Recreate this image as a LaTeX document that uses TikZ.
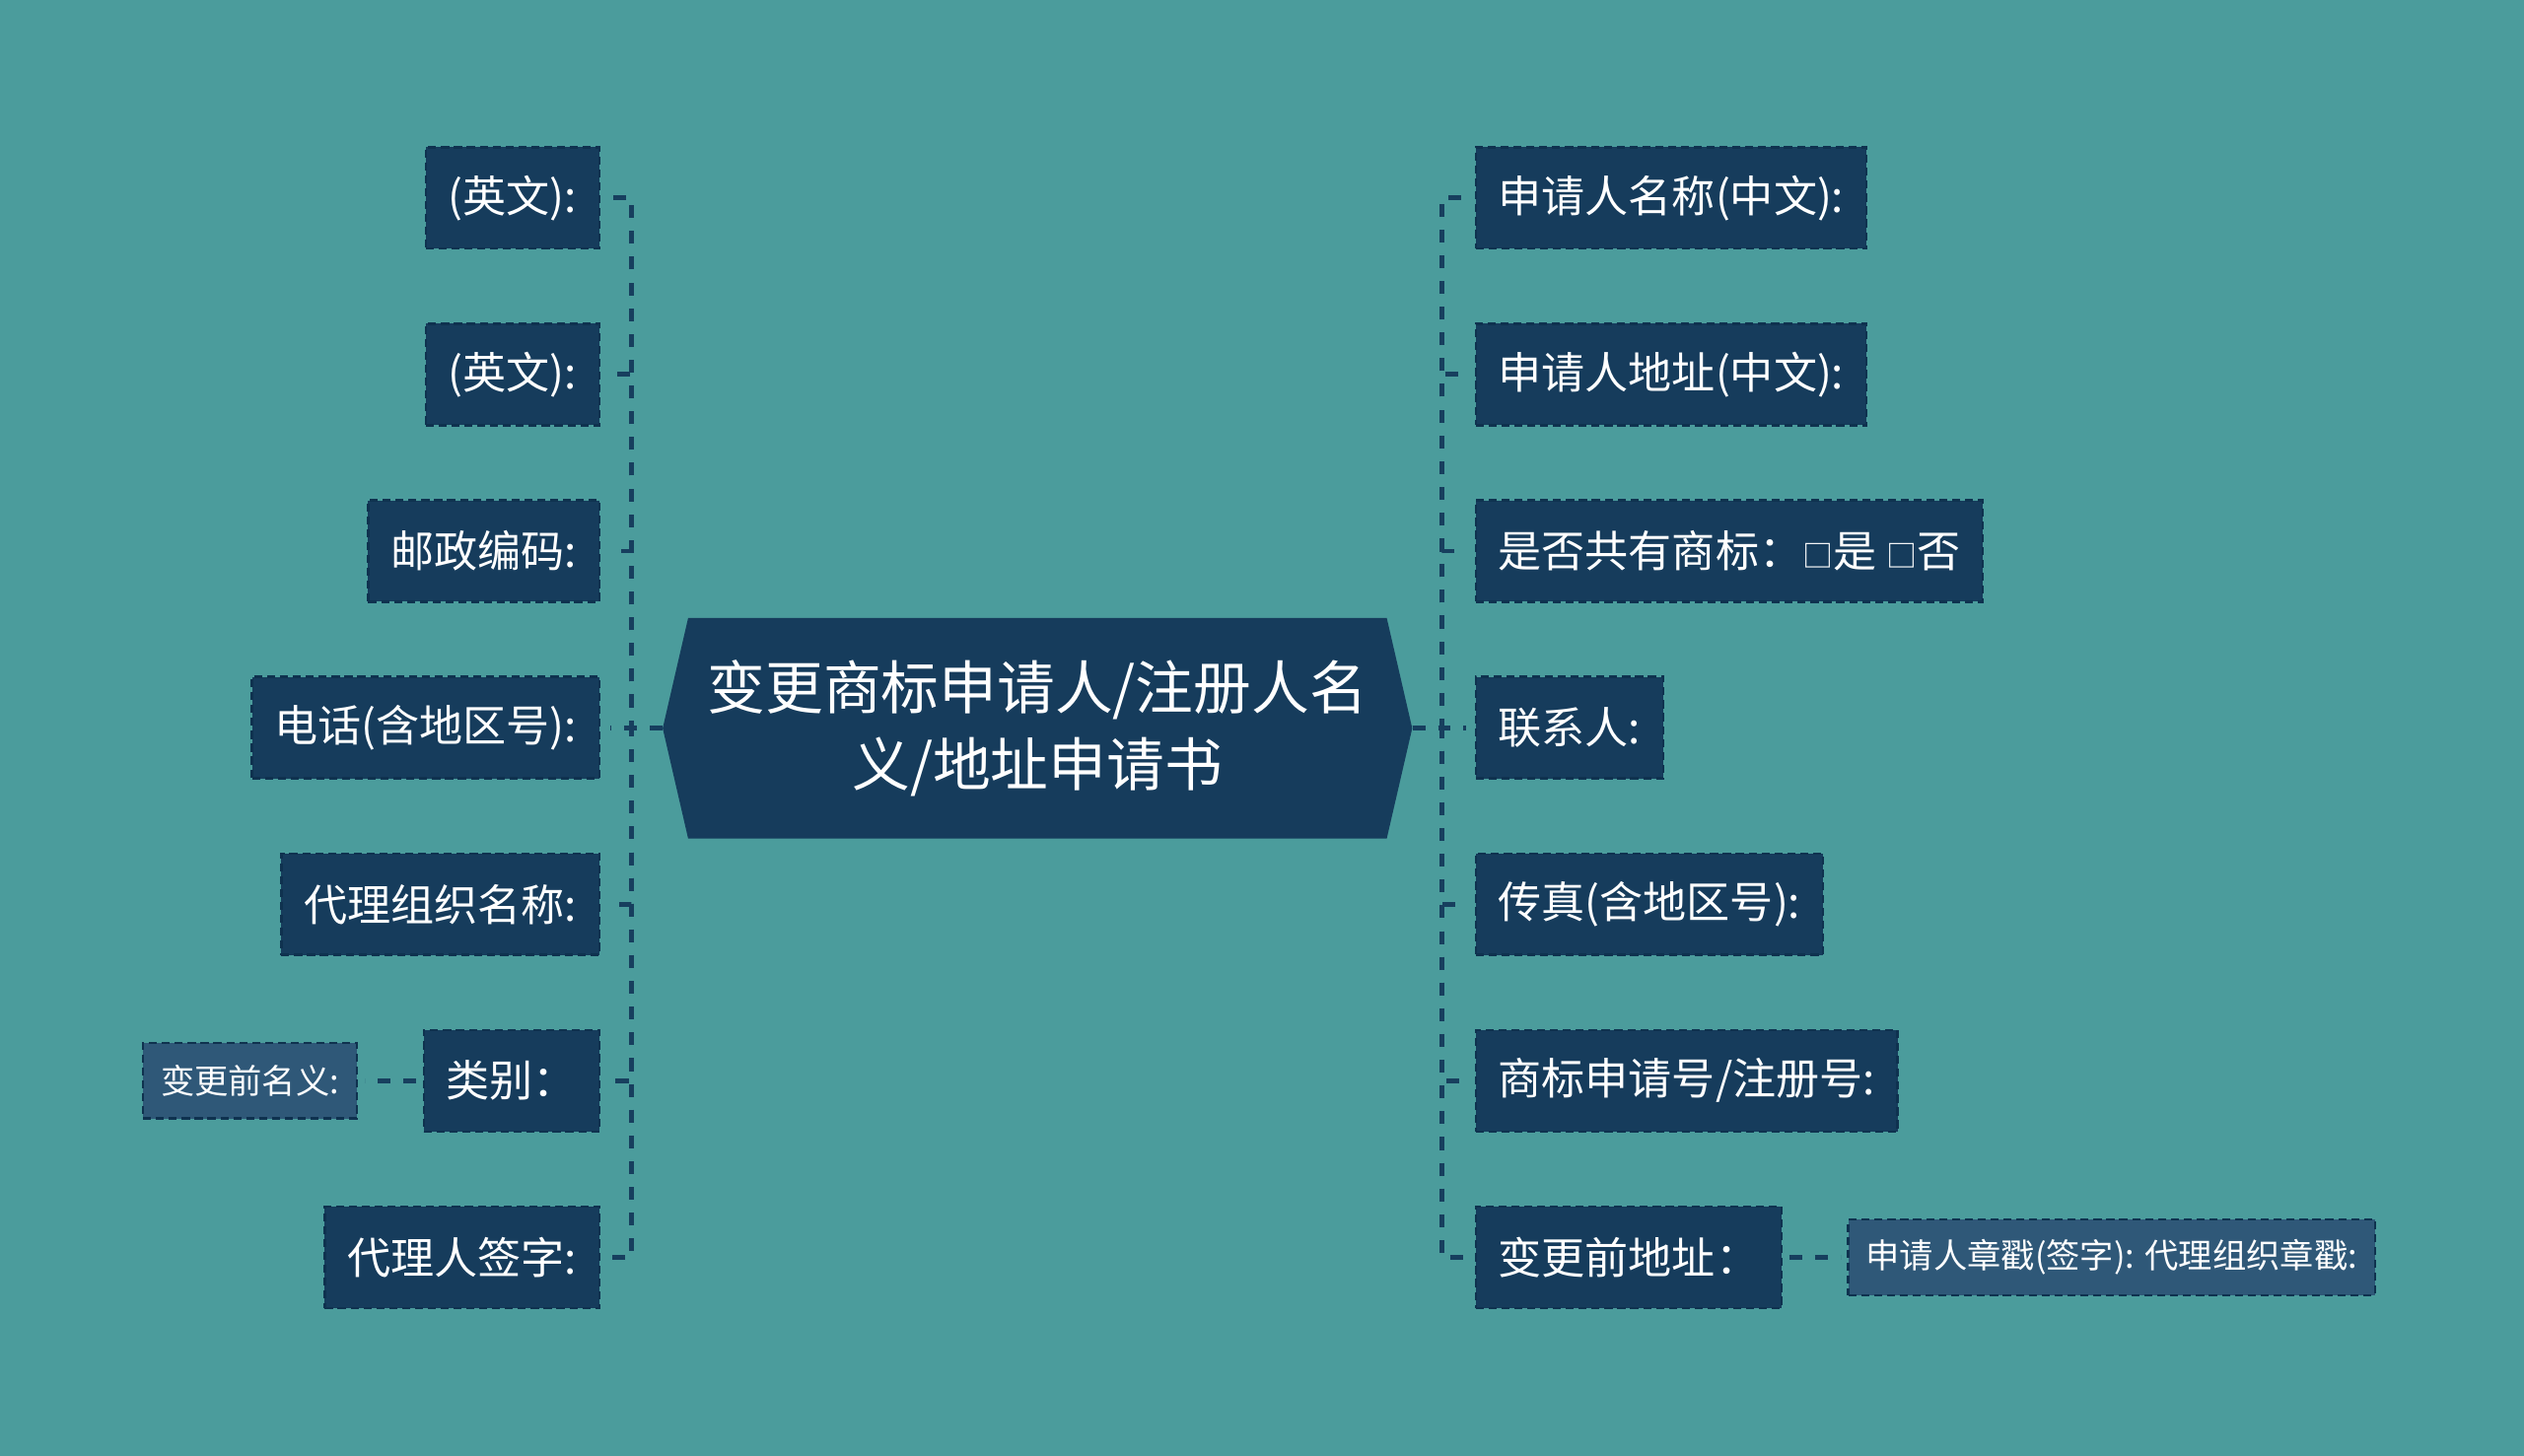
\documentclass[tikz,border=0pt]{standalone}
\usepackage{fontspec}
\setmainfont{Noto Sans CJK SC}
\usepackage{tikz}
\usetikzlibrary{positioning, shapes.symbols}

\definecolor{bgteal}{HTML}{4B9C9C}
\definecolor{boxnavy}{HTML}{163C5C}
\definecolor{subnavy}{HTML}{2F5878}
\definecolor{edgenavy}{HTML}{0F324F}
\definecolor{linenavy}{HTML}{173F5E}
\newcommand{\tickbox}{{\fontsize{19}{20}\selectfont □}}

\begin{document}
\begin{tikzpicture}[x=1pt, y=-1pt, node distance=45.2pt and 40pt,
  leaf node/.style={rectangle, fill=boxnavy, draw=edgenavy, line width=1.5pt,
    dash pattern=on 5pt off 3pt, text=white, font=\fontsize{27}{30}\selectfont,
    minimum height=63pt, inner ysep=0pt, inner xsep=14pt},
  sub node/.style={leaf node, fill=subnavy, font=\fontsize{21}{24}\selectfont,
    minimum height=47pt, inner xsep=11pt},
  root node/.style={signal, signal to=west and east, signal pointer angle=154,
    fill=boxnavy, text=white, font=\fontsize{36}{48}\selectfont, align=center,
    minimum height=137pt, inner xsep=0pt},
  link/.style={draw=linenavy, line width=3pt, dash pattern=on 8pt off 8pt}]

  \fill[bgteal] (0,0) rectangle (1568,904.6);

  \node[root node, text width=434pt] (root) at (644.5,452.5) {变更商标申请人/注册人名\\义/地址申请书};

  % left side
  \node[leaf node, anchor=east] (en1) at (373,123) {(英文):};
  \node[leaf node, below=of en1.south east, anchor=north east] (en2) {(英文):};
  \node[leaf node, below=of en2.south east, anchor=north east] (post) {邮政编码:};
  \node[leaf node, below=of post.south east, anchor=north east] (phone) {电话(含地区号):};
  \node[leaf node, below=of phone.south east, anchor=north east] (agency) {代理组织名称:};
  \node[leaf node, below=of agency.south east, anchor=north east] (cls) {类别：};
  \node[leaf node, below=of cls.south east, anchor=north east] (sign) {代理人签字:};
  \node[sub node, left=of cls] (oldname) {变更前名义:};

  % right side
  \node[leaf node, anchor=west] (name) at (916,123) {申请人名称(中文):};
  \node[leaf node, below=of name.south west, anchor=north west] (addr) {申请人地址(中文):};
  \node[leaf node, below=of addr.south west, anchor=north west] (share) {是否共有商标：\tickbox 是 \tickbox 否};
  \node[leaf node, below=of share.south west, anchor=north west] (contact) {联系人:};
  \node[leaf node, below=of contact.south west, anchor=north west] (fax) {传真(含地区号):};
  \node[leaf node, below=of fax.south west, anchor=north west] (regno) {商标申请号/注册号:};
  \node[leaf node, below=of regno.south west, anchor=north west] (oldaddr) {变更前地址：};
  \node[sub node, right=of oldaddr] (stamp) {申请人章戳(签字): 代理组织章戳:};

  \foreach \n in {en1,en2,post,phone,agency,cls,sign}
    \draw[link, shorten >=6pt] (root.west) -- ++(-19,0) |- (\n.east);
  \foreach \n in {name,addr,share,contact,fax,regno,oldaddr}
    \draw[link, shorten >=5pt] (root.east) -- ++(18,0) |- (\n.west);
  \draw[link, shorten <=4pt, shorten >=4pt] (cls) -- (oldname);
  \draw[link, shorten <=4pt, shorten >=4pt] (oldaddr) -- (stamp);
\end{tikzpicture}
\end{document}
